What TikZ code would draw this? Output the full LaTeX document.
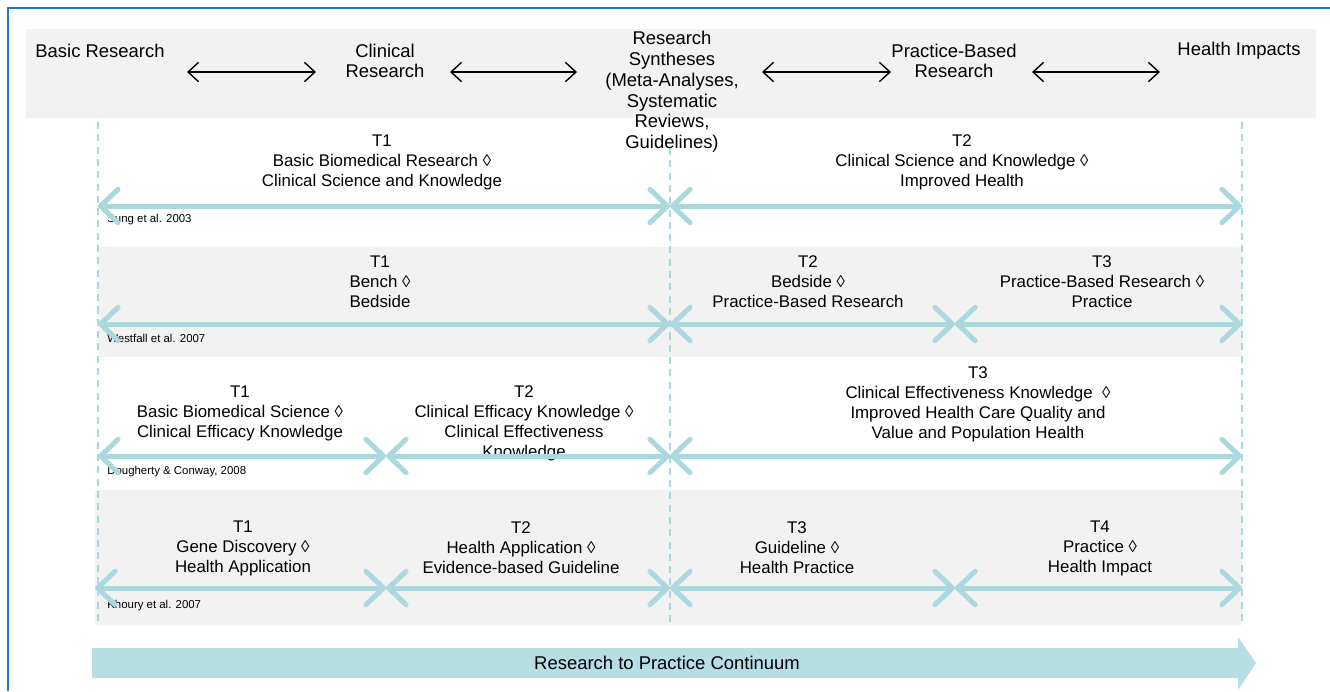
\documentclass[tikz,border=0pt]{standalone}
\usepackage{fontspec}
\setmainfont{Liberation Sans}
\usetikzlibrary{arrows.meta}

\definecolor{bandgrey}{RGB}{242,242,242}
\definecolor{trackteal}{RGB}{170,216,221}
\definecolor{contteal}{RGB}{183,222,226}
\definecolor{frameblue}{RGB}{30,122,200}

\begin{document}
\begin{tikzpicture}[x=0.02cm, y=-0.02cm,
    head/.style={align=center, font=\fontsize{10.5}{11.8}\selectfont, inner sep=0pt},
    lbl/.style={align=center, font=\fontsize{9.6}{11.4}\selectfont, inner sep=0pt},
    cite/.style={anchor=west, font=\fontsize{6.5}{7}\selectfont, inner sep=0pt},
    track/.style={draw=trackteal, line width=0.1cm,
        {Straight Barb[length=10pt,width=19pt,round]}-{Straight Barb[length=10pt,width=19pt,round]}},
    harrow/.style={draw=black, line width=0.8pt,
        {Straight Barb[length=6pt,width=11pt]}-{Straight Barb[length=6pt,width=11pt]}},
    guide/.style={draw=trackteal, dash pattern=on 4pt off 3pt, line width=0.6pt}
]
\useasboundingbox (0,0) rectangle (1330,691);

% Rahmen und Bänder
\draw[frameblue, line width=1.2pt] (8,691) -- (8,8) -- (1330,8);
\fill[bandgrey] (26,29) rectangle (1316,118);
\fill[bandgrey] (98,247) rectangle (1242,357);
\fill[bandgrey] (95,490) rectangle (1242,625);

% Leitlinien
\draw[guide] (98,122) -- (98,625);
\draw[guide] (670,148) -- (670,625);
\draw[guide] (1242,122) -- (1242,625);

% Kopfzeile
\node[head] (hBasic) at (100,51) {Basic Research};
\node[head] (hClin) at (385,61) {Clinical\\Research};
\node[head] (hSyn) at (672,92) {Research\\Syntheses\\(Meta-Analyses,\\Systematic\\Reviews,\\Guidelines)};
\node[head] (hPract) at (954,61) {Practice-Based\\Research};
\node[head] (hHealth) at (1239,51) {Health Impacts};

\coordinate (h1) at (187,72);
\coordinate (h2) at (316,72);
\coordinate (h3) at (450,72);
\coordinate (h4) at (577,72);
\coordinate (h5) at (762,72);
\coordinate (h6) at (891,72);
\coordinate (h7) at (1032,72);
\coordinate (h8) at (1160,72);
\draw[harrow] (h1) -- (h2);
\draw[harrow] (h3) -- (h4);
\draw[harrow] (h5) -- (h6);
\draw[harrow] (h7) -- (h8);

% Zeile 1
\node[lbl] (r1t1) at (382,162) {T1\\Basic Biomedical Research ◊\\Clinical Science and Knowledge};
\node[lbl] (r1t2) at (962,162) {T2\\Clinical Science and Knowledge ◊\\Improved Health};
\node[cite] (r1c) at (107,220) {Sung et al. 2003};
\coordinate (r1a) at (98,206);
\coordinate (r1b) at (670,206);
\coordinate (r1d) at (1242,206);
\draw[track] (r1a) -- (r1b);
\draw[track] (r1b) -- (r1d);

% Zeile 2
\node[lbl] (r2t1) at (380,282) {T1\\Bench ◊\\Bedside};
\node[lbl] (r2t2) at (808,282) {T2\\Bedside ◊\\Practice-Based Research};
\node[lbl] (r2t3) at (1102,282) {T3\\Practice-Based Research ◊\\Practice};
\node[cite] (r2c) at (107,338) {Westfall et al. 2007};
\coordinate (r2a) at (98,324);
\coordinate (r2b) at (670,324);
\coordinate (r2d) at (955,324);
\coordinate (r2e) at (1242,324);
\draw[track] (r2a) -- (r2b);
\draw[track] (r2b) -- (r2d);
\draw[track] (r2d) -- (r2e);

% Zeile 3
\node[lbl] (r3t1) at (240,413) {T1\\Basic Biomedical Science ◊\\Clinical Efficacy Knowledge};
\node[lbl] (r3t2) at (524,423) {T2\\Clinical Efficacy Knowledge ◊\\Clinical Effectiveness\\Knowledge};
\node[lbl] (r3t3) at (978,404) {T3\\Clinical Effectiveness Knowledge \ ◊\\Improved Health Care Quality and\\Value and Population Health};
\node[cite] (r3c) at (107,472) {Dougherty \& Conway, 2008};
\coordinate (r3a) at (98,456);
\coordinate (r3b) at (386,456);
\coordinate (r3d) at (670,456);
\coordinate (r3e) at (1242,456);
\draw[track] (r3a) -- (r3b);
\draw[track] (r3b) -- (r3d);
\draw[track] (r3d) -- (r3e);

% Zeile 4
\node[lbl] (r4t1) at (243,548) {T1\\Gene Discovery ◊\\Health Application};
\node[lbl] (r4t2) at (521,548) {T2\\Health Application ◊\\Evidence-based Guideline};
\node[lbl] (r4t3) at (797,548) {T3\\Guideline ◊\\Health Practice};
\node[lbl] (r4t4) at (1100,548) {T4\\Practice ◊\\Health Impact};
\node[cite] (r4c) at (107,606) {Khoury et al. 2007};
\coordinate (r4a) at (95,588);
\coordinate (r4b) at (386,588);
\coordinate (r4d) at (670,588);
\coordinate (r4e) at (955,588);
\coordinate (r4f) at (1242,588);
\draw[track] (r4a) -- (r4b);
\draw[track] (r4b) -- (r4d);
\draw[track] (r4d) -- (r4e);
\draw[track] (r4e) -- (r4f);

% Kontinuum
\fill[contteal] (92,648) -- (1238,648) -- (1238,637) -- (1256,663)
    -- (1238,690) -- (1238,678) -- (92,678) -- cycle;
\node[head] (cont) at (667,663) {Research to Practice Continuum};
\end{tikzpicture}
\end{document}
